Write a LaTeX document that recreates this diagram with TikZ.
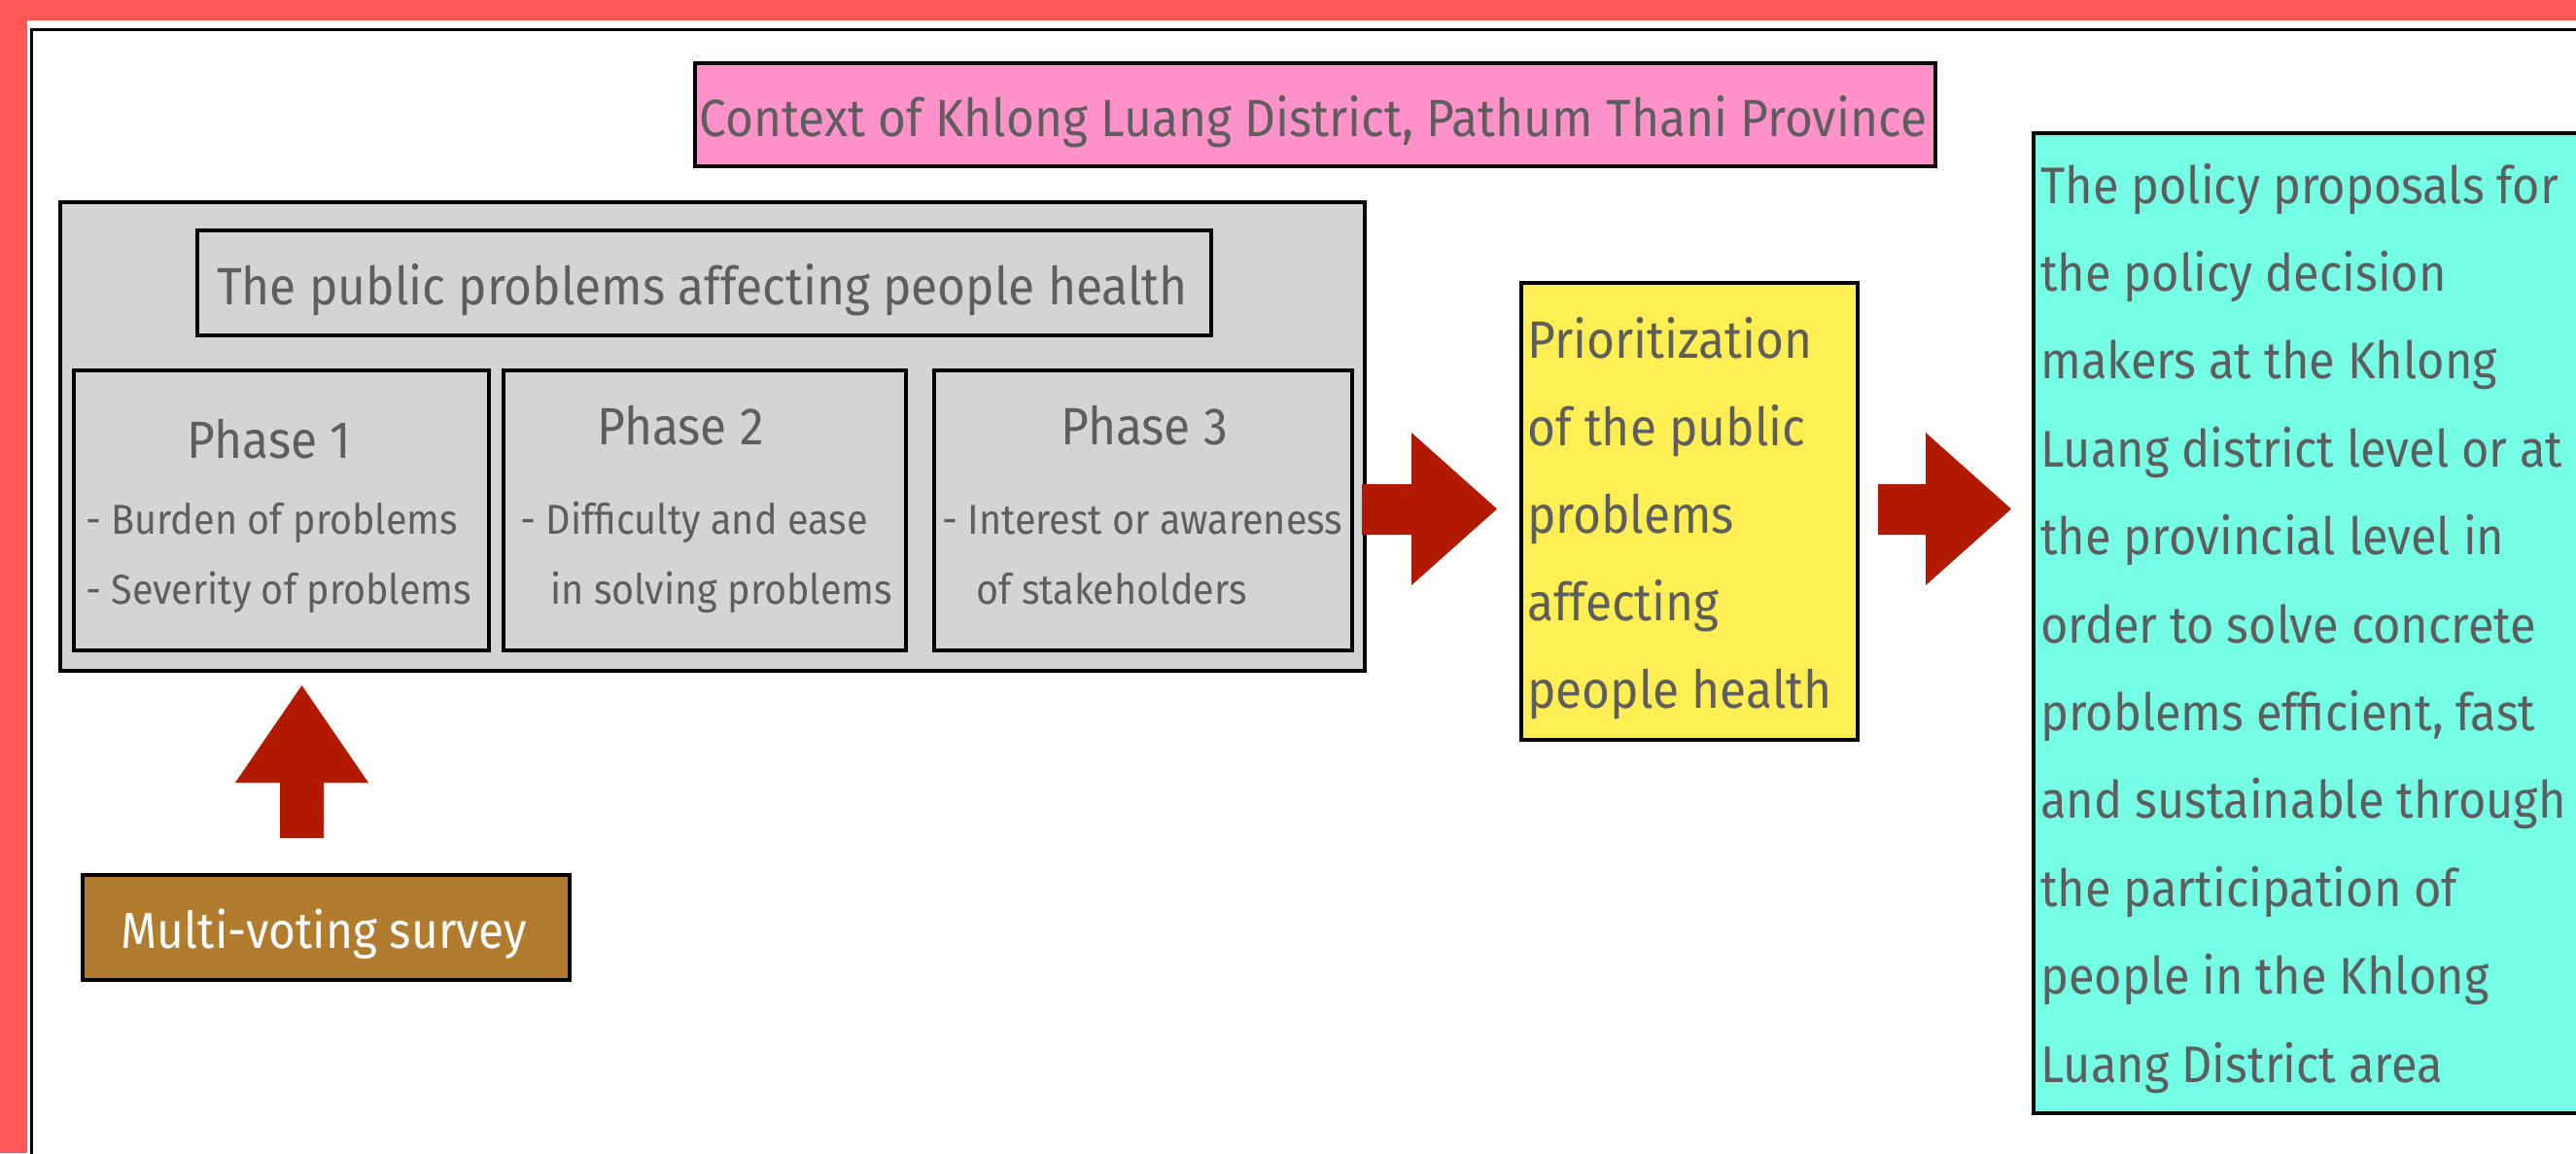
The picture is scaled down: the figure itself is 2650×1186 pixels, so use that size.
\documentclass[tikz,border=0pt]{standalone}
\usepackage{fontspec}
\setmainfont{Fira Sans}[FakeStretch=0.92]
\definecolor{borderred}{HTML}{FF5757}
\definecolor{pinkbox}{HTML}{FF93C9}
\definecolor{graybox}{HTML}{D4D4D4}
\definecolor{yellowbox}{HTML}{FFEF55}
\definecolor{cyanbox}{HTML}{75FDE6}
\definecolor{arrowred}{HTML}{B21A00}
\definecolor{brownbox}{HTML}{B27C2F}
\definecolor{txtgray}{HTML}{5E5E5E}
\tikzset{
  box/.style={draw=black, line width=3.5pt, inner sep=0pt, anchor=north west},
  txt/.style={text=txtgray, inner sep=0pt, font=\fontsize{54}{60}\selectfont},
  bullet/.style={text=txtgray, inner sep=0pt, anchor=base west, font=\fontsize{43}{50}\selectfont},
  blockarrow/.style={fill=arrowred, draw=none},
}
\begin{document}
\begin{tikzpicture}[x=1pt,y=-1pt]
\useasboundingbox (0,0) rectangle (2650,1186);
\clip (0,0) rectangle (2650,1186);
% background and red border
\fill[borderred] (0,0) rectangle (2650,1186);
\fill[white] (28,21) rectangle (2650,1186);
\draw[line width=3.5pt] (32.5,1300) -- (32.5,30.5) -- (2800,30.5);
% context
\node[box, fill=pinkbox, minimum width=1276pt, minimum height=106pt] (context) at (713,63) {};
\node[txt, anchor=base] (contextt) at (1351,140) {Context of Khlong Luang District, Pathum Thani Province};
% gray group
\node[box, fill=graybox, minimum width=1342pt, minimum height=482pt] (group) at (60,206) {};
\node[box, fill=graybox, minimum width=1043pt, minimum height=108pt] (title) at (201,235) {};
\node[txt, anchor=base] (titlet) at (722.5,313) {The public problems affecting people health};
\node[box, fill=graybox, minimum width=427pt, minimum height=288pt] (p1) at (74,379) {};
\node[box, fill=graybox, minimum width=414pt, minimum height=288pt] (p2) at (516,379) {};
\node[box, fill=graybox, minimum width=430pt, minimum height=288pt] (p3) at (959,379) {};
\node[txt, anchor=base] (p1t) at (277,471) {Phase 1};
\node[txt, anchor=base] (p2t) at (700,457) {Phase 2};
\node[txt, anchor=base] (p3t) at (1177,457) {Phase 3};
\node[bullet] (p1a) at (88,549) {- Burden of problems};
\node[bullet] (p1b) at (88,621) {- Severity of problems};
\node[bullet] (p2a) at (535,549) {- Difficulty and ease};
\node[bullet] (p2b) at (566,621) {in solving problems};
\node[bullet] (p3a) at (969,549) {- Interest or awareness};
\node[bullet] (p3b) at (1004,621) {of stakeholders};
% yellow
\node[box, fill=yellowbox, minimum width=346pt, minimum height=470pt] (prio) at (1563,289) {};
\foreach \t [count=\i from 0] in {Prioritization, of the public, problems, affecting, people health}
  \node[txt, anchor=base west] (prio\i) at (1571,368+90.2*\i) {\t};
% cyan
\node[box, fill=cyanbox, minimum width=650pt, minimum height=1008pt] (policy) at (2090,135) {};
\foreach \t [count=\i from 0] in {The policy proposals for, the policy decision, makers at the Khlong, Luang district level or at, the provincial level in, order to solve concrete, {problems efficient, fast}, and sustainable through, the participation of, people in the Khlong, Luang District area}
  \node[txt, anchor=base west, font=\fontsize{53}{60}\selectfont] (pol\i) at (2099,209+90.4*\i) {\t};
% survey
\node[box, fill=brownbox, minimum width=501pt, minimum height=108pt] (survey) at (83,898) {};
\node[txt, text=white, anchor=base, font=\fontsize{52}{60}\selectfont] (surveyt) at (333.5,975) {Multi-voting survey};
% block arrows
\fill[blockarrow] (1401,498) -- (1452,498) -- (1452,445) -- (1540,523.5) -- (1452,602) -- (1452,550) -- (1401,550) -- cycle;
\fill[blockarrow] (1932,498) -- (1981,498) -- (1981,445) -- (2069,523.5) -- (1981,602) -- (1981,550) -- (1932,550) -- cycle;
\fill[blockarrow] (288,862) -- (288,805) -- (242,805) -- (310.5,705) -- (379,805) -- (333,805) -- (333,862) -- cycle;
\end{tikzpicture}
\end{document}
